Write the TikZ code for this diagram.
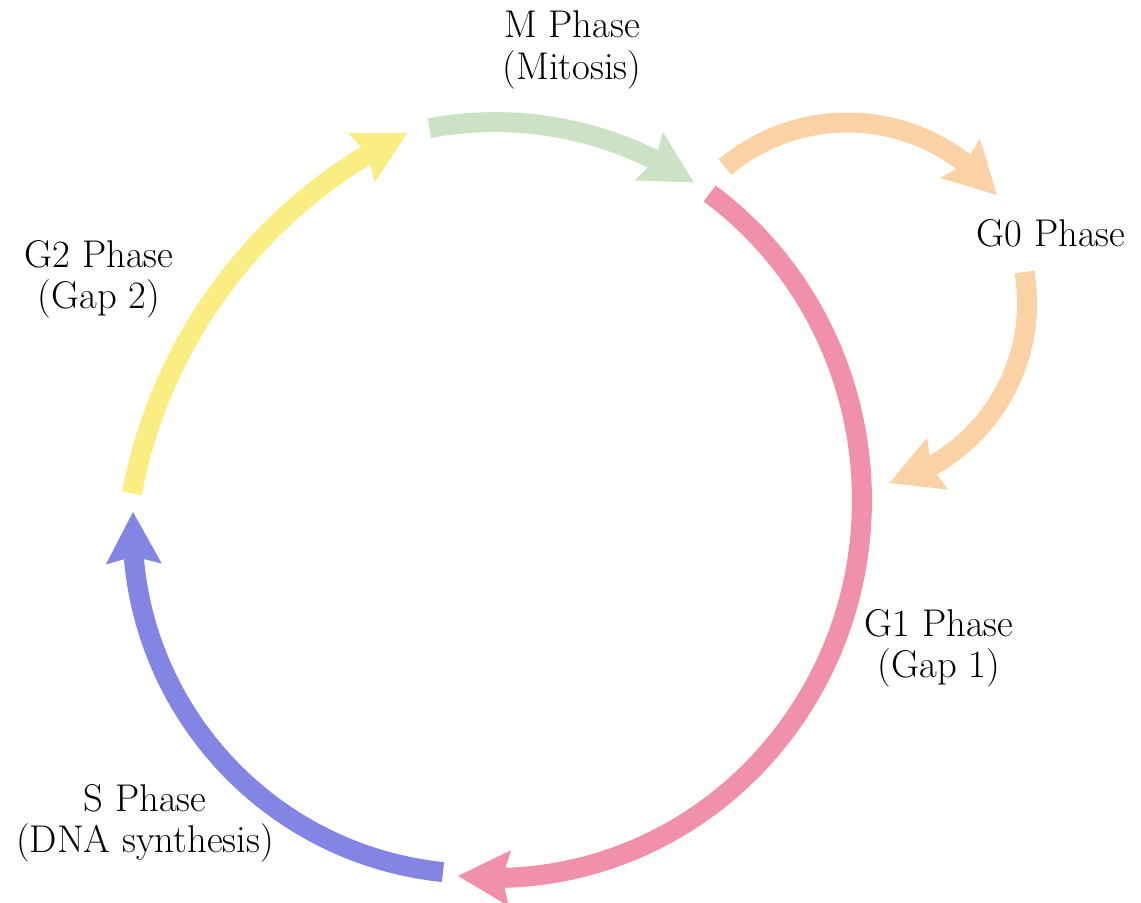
\documentclass[tikz,border=0pt]{standalone}
\usetikzlibrary{arrows.meta,bending}
\definecolor{pinkC}{RGB}{241,144,170}
\definecolor{blueC}{RGB}{130,133,228}
\definecolor{yellowC}{RGB}{250,238,130}
\definecolor{greenC}{RGB}{204,226,196}
\definecolor{orangeC}{RGB}{250,210,165}
\begin{document}
\begin{tikzpicture}[x=0.02cm,y=0.02cm,
  phase/.style={line width=0.4cm, -{Stealth[length=1.04cm,width=1.12cm,inset=0.15cm,line width=0pt]}},
  lbl/.style={align=center, font=\rmfamily\fontsize{22}{23.5}\selectfont, inner sep=0pt, text=black}]
\useasboundingbox (0,0) rectangle (1141,902);
% centres of the arcs
\coordinate (Cm) at (495,402);
\coordinate (Cy) at (628,315);
\coordinate (Cb) at (478.5,374);
\coordinate (Co1) at (847.4,589);
\coordinate (Co2) at (840.6,598.9);
% start points of the arcs
\coordinate (mStart) at ([shift={(100.3:7.34cm and 7.56cm)}]Cm);
\coordinate (gOneStart) at ([shift={(54.2:7.34cm and 7.56cm)}]Cm);
\coordinate (sStart) at ([shift={(-95.9:6.92cm)}]Cb);
\coordinate (gTwoStart) at ([shift={(169.3:10.1cm)}]Cy);
\coordinate (gZeroStartA) at ([shift={(130:3.81cm)}]Co1);
\coordinate (gZeroStartB) at ([shift={(9.6:3.73cm)}]Co2);
% arcs
\draw[phase, color=greenC] (mStart) arc[start angle=100.3, end angle=57.2, x radius=7.34cm, y radius=7.56cm];
\draw[phase, color=pinkC] (gOneStart) arc[start angle=54.2, end angle=-95.8, x radius=7.34cm, y radius=7.56cm];
\draw[phase, color=blueC] (sStart) arc[start angle=-95.9, end angle=-182.65, radius=6.92cm];
\draw[phase, color=yellowC] (gTwoStart) arc[start angle=169.3, end angle=115.95, radius=10.1cm];
\draw[phase, color=orangeC] (gZeroStartA) arc[start angle=130, end angle=38.3, radius=3.81cm];
\draw[phase, color=orangeC] (gZeroStartB) arc[start angle=9.6, end angle=-74.8, radius=3.73cm];
% labels
\node[lbl] (mLab) at (572,852) {M Phase\\(Mitosis)};
\node[lbl] (gOneLab) at (939,254) {G1 Phase\\(Gap 1)};
\node[lbl] (gTwoLab) at (99,623) {G2 Phase\\(Gap 2)};
\node[lbl] (sLab) at (145,79) {S Phase\\(DNA synthesis)};
\node[lbl, anchor=base] (gZeroLab) at (1051,655) {G0 Phase};
\end{tikzpicture}
\end{document}
